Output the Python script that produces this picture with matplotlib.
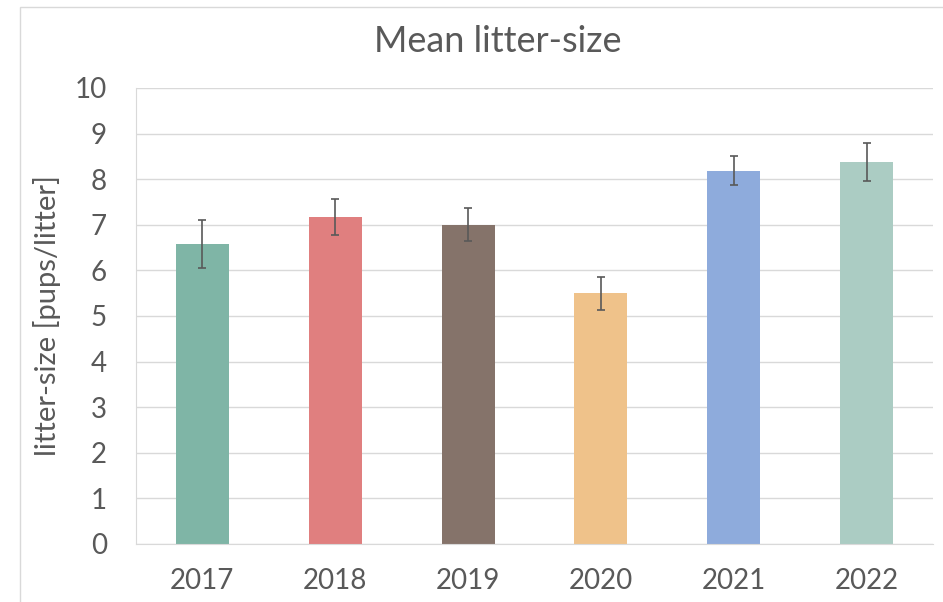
import matplotlib.pyplot as plt
from matplotlib.patches import Rectangle

years = ['2017', '2018', '2019', '2020', '2021', '2022']
mean_size = [6.58, 7.17, 7.00, 5.50, 8.19, 8.37]
err = [0.52, 0.40, 0.36, 0.36, 0.31, 0.42]
colors = ['#7FB5A6', '#E07F7F', '#85736A', '#EFC28A', '#8EABDC', '#ABCCC3']

plt.rcParams['font.family'] = ['Lato', 'DejaVu Sans']
text_col = '#595959'

fig = plt.figure(figsize=(9.43, 6.02), dpi=100)
ax = fig.add_axes([136 / 943, 1 - 544 / 602, (933 - 136) / 943, (544 - 88) / 602])

x = range(len(years))
ax.bar(x, mean_size, width=0.4, color=colors, zorder=2)
ax.errorbar(x, mean_size, yerr=err, fmt='none', ecolor='#595959',
            elinewidth=1.2, capsize=2.8, capthick=1.2, zorder=3)

ax.set_xlim(-0.5, 5.5)
ax.set_ylim(0, 10)
ax.set_yticks(range(0, 11))
ax.set_xticks(list(x))
ax.set_xticklabels(years)
ax.grid(axis='y', color='#D9D9D9', linewidth=1, zorder=0)
ax.set_axisbelow(True)
for s in ['top', 'right']:
    ax.spines[s].set_visible(False)
ax.spines['bottom'].set_color('#D9D9D9')
ax.spines['left'].set_color('#D9D9D9')
ax.tick_params(length=0, labelsize=20, colors=text_col)
ax.tick_params(axis='x', pad=17)
ax.tick_params(axis='y', pad=21)

ax.set_ylabel('litter-size [pups/litter]', fontsize=21, color=text_col)
ax.yaxis.set_label_coords((61 - 136) / 797, 0.5)
fig.text(498 / 943, 1 - 42 / 602, 'Mean litter-size', ha='center', va='center',
         fontsize=26, color=text_col)

fig.patches.append(Rectangle((20 / 943, -0.01), 1.0, 1 - 7 / 602 + 0.01,
                             transform=fig.transFigure, fill=False,
                             edgecolor='#D9D9D9', linewidth=1))

fig.savefig('out.png', dpi=100)
